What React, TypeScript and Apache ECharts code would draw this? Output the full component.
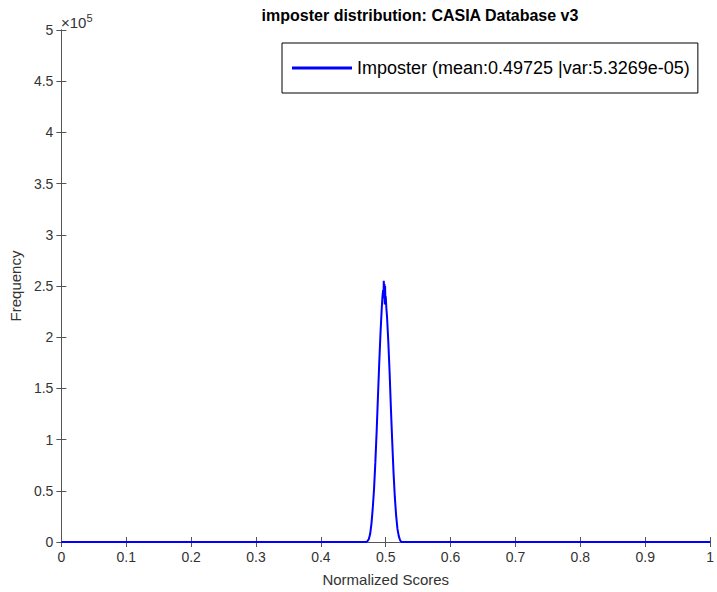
import React, { useEffect, useRef } from "react";
import * as echarts from "echarts";

const TITLE = "imposter distribution: CASIA Database v3";
const SERIES_NAME = "Imposter (mean:0.49725 |var:5.3269e-05)";
const X_LABEL = "Normalized Scores";
const Y_LABEL = "Frequency";

// Normalized score (x) and frequency (y)
const scores = [
  0, 0.1, 0.2, 0.3, 0.4, 0.46, 0.47, 0.472, 0.474, 0.476, 0.478, 0.48, 0.482, 0.484,
  0.486, 0.488, 0.49, 0.492, 0.494, 0.495, 0.496, 0.4965, 0.497, 0.4975, 0.498, 0.4985,
  0.499, 0.4995, 0.5, 0.501, 0.502, 0.504, 0.506, 0.508, 0.51, 0.512, 0.514, 0.516,
  0.518, 0.52, 0.522, 0.524, 0.53, 0.6, 0.7, 0.8, 0.9, 1,
];
const frequency = [
  0, 0, 0, 0, 0, 0, 0, 1000, 3000, 8000, 18000, 33000, 52000, 78000,
  108000, 142000, 175000, 205000, 230000, 240000, 246000, 238000, 255000, 243000, 252000, 232000,
  250000, 236000, 240000, 228000, 220000, 195000, 165000, 130000, 98000, 68000, 44000, 26000,
  13000, 6000, 2000, 0, 0, 0, 0, 0, 0, 0,
];

const xTicks = [0, 0.1, 0.2, 0.3, 0.4, 0.5, 0.6, 0.7, 0.8, 0.9, 1];
const yMax = 500000;
const yStep = 50000;
const yScale = 100000;

export default function App() {
  const ref = useRef<HTMLDivElement>(null);
  useEffect(() => {
    if (!ref.current) return;
    const chart = echarts.init(ref.current, null, { renderer: "svg" });
    const font = "Liberation Sans, Arial, Helvetica, sans-serif";
    const axisColor = "#555";
    const labelColor = "#333";
    chart.setOption({
      animation: false,
      backgroundColor: "#fff",
      textStyle: { fontFamily: font },
      grid: { left: 61, right: 5, top: 30, bottom: 46, containLabel: false },
      legend: {
        data: [SERIES_NAME],
        left: 282,
        top: 43,
        padding: [16, 8, 16, 10],
        itemWidth: 60,
        itemHeight: 3,
        icon: "rect",
        itemGap: 5,
        borderColor: "#000",
        borderWidth: 1,
        backgroundColor: "#fff",
        textStyle: { fontSize: 18, color: "#000", fontFamily: font },
      },
      xAxis: [
        {
          type: "value",
          min: 0,
          max: 1,
          interval: 0.1,
          name: X_LABEL,
          nameLocation: "middle",
          nameGap: 30,
          nameTextStyle: { fontSize: 15, color: labelColor },
          axisLine: { show: true, lineStyle: { color: axisColor, width: 1 } },
          axisTick: { show: true, inside: true, length: 5, lineStyle: { color: axisColor } },
          axisLabel: {
            fontSize: 14,
            color: labelColor,
            margin: 8,
            formatter: (v: number) => {
              const t = xTicks.find((x) => Math.abs(x - v) < 1e-9);
              return t === undefined ? "" : String(t);
            },
          },
          splitLine: { show: false },
        },
        {
          type: "value",
          position: "top",
          min: 0,
          max: 1,
          interval: 0.1,
          axisLine: { show: true, lineStyle: { color: axisColor, width: 1 } },
          axisTick: { show: true, inside: true, length: 5, lineStyle: { color: axisColor } },
          axisLabel: { show: false },
          splitLine: { show: false },
        },
      ],
      yAxis: [
        {
          type: "value",
          min: 0,
          max: yMax,
          interval: yStep,
          name: Y_LABEL,
          nameLocation: "middle",
          nameGap: 33,
          nameRotate: 90,
          nameTextStyle: { fontSize: 15, color: labelColor },
          axisLine: { show: true, lineStyle: { color: axisColor, width: 1 } },
          axisTick: { show: true, inside: true, length: 5, lineStyle: { color: axisColor } },
          axisLabel: {
            fontSize: 14,
            color: labelColor,
            margin: 8,
            formatter: (v: number) => String(Math.round((v / yScale) * 10) / 10),
          },
          splitLine: { show: false },
        },
        {
          type: "value",
          position: "right",
          min: 0,
          max: yMax,
          interval: yStep,
          axisLine: { show: true, lineStyle: { color: axisColor, width: 1 } },
          axisTick: { show: true, inside: true, length: 5, lineStyle: { color: axisColor } },
          axisLabel: { show: false },
          splitLine: { show: false },
        },
      ],
      graphic: [
        {
          type: "text",
          x: 420,
          y: 15,
          style: {
            text: TITLE,
            textAlign: "center",
            textVerticalAlign: "middle",
            fontSize: 16,
            fontWeight: "bold",
            fill: "#000",
            fontFamily: font,
          },
        },
        {
          type: "text",
          x: 61,
          y: 12,
          style: {
            text: "{a|×10}{b|5}",
            textVerticalAlign: "top",
            rich: {
              a: { fontSize: 15, fill: labelColor, fontFamily: font, verticalAlign: "bottom" },
              b: { fontSize: 11, fill: labelColor, fontFamily: font, verticalAlign: "top", padding: [0, 0, 7, 0] },
            },
          },
        },
      ],
      series: [
        {
          name: SERIES_NAME,
          type: "line",
          xAxisIndex: 0,
          yAxisIndex: 0,
          data: scores.map((s, i) => [s, frequency[i]]),
          showSymbol: false,
          symbol: "none",
          lineStyle: { color: "#0000ff", width: 2 },
          itemStyle: { color: "#0000ff" },
        },
      ],
    });
    return () => chart.dispose();
  }, []);
  return <div ref={ref} style={{ position: "absolute", left: 0, top: 0, width: 717, height: 592 }} />;
}
